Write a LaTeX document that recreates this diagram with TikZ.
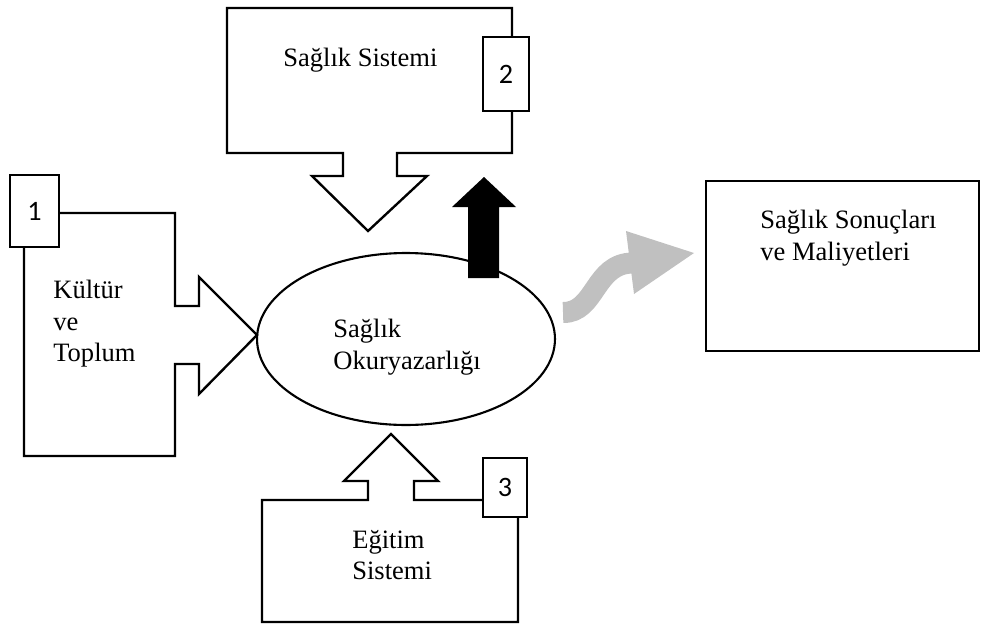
\documentclass[tikz,border=0pt]{standalone}
\usepackage{fontspec}
\setmainfont{Liberation Serif}
\newfontfamily\numfont{Carlito}
\usetikzlibrary{shapes.geometric}
\definecolor{ink}{HTML}{000000}
\definecolor{flow}{HTML}{C0C0C0}
\tikzset{
  every picture/.style={line join=miter},
  frame/.style={draw=ink, fill=white, line width=1.35pt},
  numbox/.style={draw=ink, fill=white, line width=0.75pt, inner sep=0pt,
    font=\numfont\fontsize{16}{19}\selectfont},
  txt/.style={font=\fontsize{15.1}{17.9}\selectfont, align=left, inner sep=0pt,
    anchor=north west},
  hub/.style={ellipse, draw=ink, line width=1.2pt, inner sep=0pt},
  solidarr/.style={fill=ink, draw=none},
  flowarr/.style={draw=flow, line width=0.42cm},
}
\begin{document}
\begin{tikzpicture}[x=0.02cm, y=-0.02cm]
  \useasboundingbox (0,0) rectangle (982,625);
  % =================== (1) culture and society ===================
  \draw[frame] (24,213) -- (175,213) -- (175,306) -- (199,306) -- (199,277)
    -- (257,335) -- (199,394) -- (199,364) -- (175,364) -- (175,456)
    -- (24,456) -- cycle;
  \node[txt] (kt) at (53,280) {Kültür\\ve\\Toplum};

  % =================== (2) health system ===================
  \draw[frame] (227,8) -- (512,8) -- (512,153) -- (397,153) -- (397,176)
    -- (427,176) -- (368,231) -- (312,176) -- (343,176) -- (343,153)
    -- (227,153) -- cycle;
  \node[txt] (ss) at (283,48) {Sağlık Sistemi};

  % =================== (3) education system ===================
  \draw[frame] (262,500) -- (368,500) -- (368,481) -- (344,481) -- (391,434)
    -- (438,481) -- (414,481) -- (414,500) -- (518,500) -- (518,622)
    -- (262,622) -- cycle;
  \node[txt] (es) at (352,530) {Eğitim\\Sistemi};

  % number tags
  \foreach \n/\cx/\cy/\w/\h in {1/34.5/211/0.98/1.44, 2/506/74/0.92/1.48,
                                3/505/487.5/0.88/1.18}{
    \node[numbox, minimum width=\w cm, minimum height=\h cm] (num\n) at (\cx,\cy) {\n};}

  % =================== health literacy ===================
  \node[hub, minimum width=5.96cm, minimum height=3.44cm] (hl) at (406,339) {};
  \node[txt] (hlt) at (333,319) {Sağlık\\Okuryazarlığı};
  \fill[solidarr] (468,278) -- (468,207) -- (452,207) -- (484,177) -- (516,207)
    -- (499,207) -- (499,278) -- cycle;

  % =================== outcomes ===================
  \draw[flowarr] (563,312.5) .. controls (596,313) and (594,263) .. (633,263);
  \fill[flow] (626,231) -- (694,253) -- (634,294) -- cycle;
  \node[frame, minimum width=5.46cm, minimum height=3.4cm, inner sep=0pt] (oc)
    at (842.5,266) {};
  \node[txt] (oct) at (760,210) {Sağlık Sonuçları\\ve Maliyetleri};
\end{tikzpicture}
\end{document}
